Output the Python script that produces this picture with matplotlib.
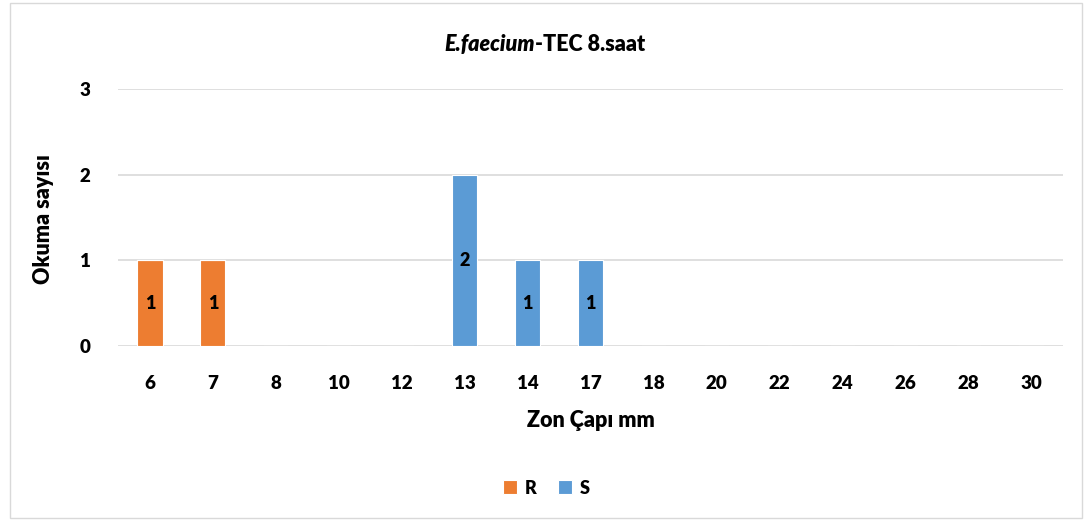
import numpy as np
import matplotlib.pyplot as plt
from matplotlib.patches import Rectangle

plt.rcParams['font.family'] = ['Lato', 'DejaVu Sans']
plt.rcParams['font.weight'] = 'heavy'
W = 'heavy'

categories = ['6', '7', '8', '10', '12', '13', '14', '17', '18', '20', '22', '24', '26', '28', '30']
r_values = [1, 1, 0, 0, 0, 0, 0, 0, 0, 0, 0, 0, 0, 0, 0]
s_values = [0, 0, 0, 0, 0, 2, 1, 1, 0, 0, 0, 0, 0, 0, 0]

orange = '#ED7D31'
blue = '#5B9BD5'

fig = plt.figure(figsize=(10.92, 5.21), dpi=100)
ax = fig.add_axes([0.1085, 0.336, 0.8645, 0.493])

x = np.arange(len(categories))
r_bars = ax.bar(x, r_values, width=0.4, color=orange, edgecolor='white', linewidth=0.8, label='R')
s_bars = ax.bar(x, s_values, width=0.4, bottom=r_values, color=blue, edgecolor='white', linewidth=0.8, label='S')

for bars, vals in [(r_bars, r_values), (s_bars, s_values)]:
    for b, v in zip(bars, vals):
        if v:
            ax.text(b.get_x() + b.get_width() / 2, b.get_y() + b.get_height() / 2, str(v),
                    ha='center', va='center', fontsize=13, fontweight=W, color='black')

ax.set_xlim(-0.5, len(categories) - 0.5)
ax.set_ylim(0, 3)
ax.set_yticks([0, 1, 2, 3])
ax.set_xticks(x)
ax.set_xticklabels(categories)
ax.tick_params(length=0, labelsize=13.5)
ax.tick_params(axis='x', pad=21)
ax.tick_params(axis='y', pad=20)
ax.grid(axis='y', color='#D9D9D9', linewidth=1.2)
ax.set_axisbelow(True)
for s in ax.spines.values():
    s.set_visible(False)

ax.set_xlabel('Zon Çapı mm', fontsize=15.5, fontweight=W, labelpad=13)
fig.text(0.04, 0.58, 'Okuma sayısı', rotation=90, ha='center', va='center',
         fontsize=15.5, fontweight=W)

# title with italic species name
fig.canvas.draw()
renderer = fig.canvas.get_renderer()
t1 = fig.text(0, 0.915, 'E.faecium', fontsize=15.5, fontweight=W, style='italic',
              ha='left', va='center')
t2 = fig.text(0, 0.915, '-TEC 8.saat', fontsize=15.5, fontweight=W, ha='left', va='center')
w1 = t1.get_window_extent(renderer).width / fig.bbox.width
w2 = t2.get_window_extent(renderer).width / fig.bbox.width
start = 0.499 - (w1 + w2) / 2
t1.set_x(start)
t2.set_x(start + w1)

fig.legend(handles=[r_bars, s_bars], loc='center', bbox_to_anchor=(0.5, 0.063), ncol=2,
           frameon=False, fontsize=13, handlelength=0.8, handleheight=0.8,
           handletextpad=0.4, columnspacing=1.2)

fig.patches.append(Rectangle((0.009, 0.006), 0.982, 0.988, transform=fig.transFigure,
                             fill=False, edgecolor='#D9D9D9', linewidth=1))

fig.savefig('out.png', dpi=100)
